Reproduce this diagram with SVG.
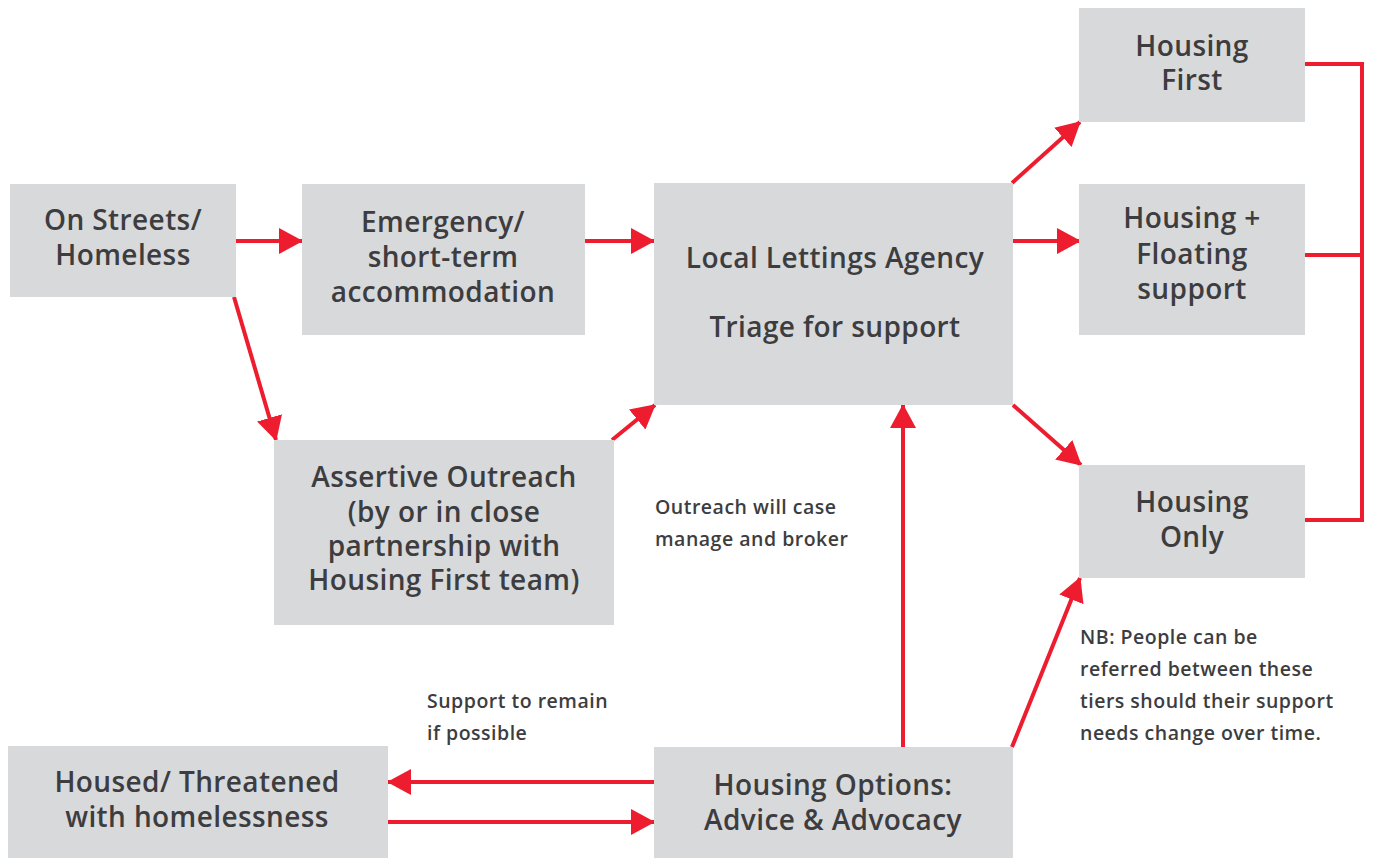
<svg xmlns="http://www.w3.org/2000/svg" width="1375" height="858" viewBox="0 0 1375 858">
<style>
.box{fill:#d8d9db}
.t{font-family:"Open Sans","Liberation Sans",sans-serif;font-weight:600;font-size:28px;letter-spacing:0.4px;fill:#3d3d3f;text-anchor:middle}
.s{font-family:"Open Sans","Liberation Sans",sans-serif;font-weight:600;font-size:19.5px;letter-spacing:0.5px;fill:#3d3d3f}
.c{stroke:#ed1c2e;stroke-width:4;fill:none}
</style>
<defs>
<marker id="ah" viewBox="0 0 24 26" refX="23" refY="13" markerWidth="24" markerHeight="26" markerUnits="userSpaceOnUse" orient="auto">
<path d="M0,0 L24,13 L0,26 Z" fill="#ed1c2e"/>
</marker>
</defs>
<rect width="1375" height="858" fill="#fff"/>
<g id="connectors">
<line class="c" x1="236" y1="241" x2="302" y2="241" marker-end="url(#ah)"/>
<line class="c" x1="585" y1="241" x2="654" y2="241" marker-end="url(#ah)"/>
<line class="c" x1="234" y1="297" x2="276" y2="440" marker-end="url(#ah)"/>
<line class="c" x1="612" y1="440" x2="655" y2="405" marker-end="url(#ah)"/>
<line class="c" x1="1012" y1="183" x2="1080" y2="122" marker-end="url(#ah)"/>
<line class="c" x1="1013" y1="241" x2="1080" y2="241" marker-end="url(#ah)"/>
<line class="c" x1="1013" y1="405" x2="1081" y2="465" marker-end="url(#ah)"/>
<line class="c" x1="903" y1="747" x2="903" y2="405" marker-end="url(#ah)"/>
<line class="c" x1="1012" y1="747" x2="1080" y2="578" marker-end="url(#ah)"/>
<line class="c" x1="654" y1="782" x2="388" y2="782" marker-end="url(#ah)"/>
<line class="c" x1="388" y1="822" x2="654" y2="822" marker-end="url(#ah)"/>
<polyline class="c" points="1305,64 1362,64 1362,520 1305,520"/>
<line class="c" x1="1305" y1="255" x2="1362" y2="255"/>
</g>
<g id="on-streets"><rect class="box" x="10" y="184" width="226" height="113"/>
<text class="t" x="123" y="230">On Streets/</text><text class="t" x="123" y="265">Homeless</text></g>
<g id="emergency"><rect class="box" x="302" y="184" width="283" height="151"/>
<text class="t" x="443" y="232">Emergency/</text><text class="t" x="443" y="267">short-term</text><text class="t" x="443" y="302">accommodation</text></g>
<g id="lla"><rect class="box" x="654" y="183" width="359" height="222"/>
<text class="t" x="835" y="268">Local Lettings Agency</text><text class="t" x="835" y="337">Triage for support</text></g>
<g id="housing-first"><rect class="box" x="1079" y="8" width="226" height="114"/>
<text class="t" x="1192" y="56">Housing</text><text class="t" x="1192" y="90">First</text></g>
<g id="housing-floating"><rect class="box" x="1079" y="184" width="226" height="151"/>
<text class="t" x="1192" y="228">Housing +</text><text class="t" x="1192" y="264">Floating</text><text class="t" x="1192" y="299">support</text></g>
<g id="housing-only"><rect class="box" x="1079" y="465" width="226" height="113"/>
<text class="t" x="1192" y="512">Housing</text><text class="t" x="1192" y="547">Only</text></g>
<g id="assertive"><rect class="box" x="274" y="440" width="340" height="185"/>
<text class="t" x="444" y="487">Assertive Outreach</text><text class="t" x="444" y="522">(by or in close</text><text class="t" x="444" y="556">partnership with</text><text class="t" x="444" y="590">Housing First team)</text></g>
<g id="housed"><rect class="box" x="8" y="746" width="380" height="112"/>
<text class="t" x="197" y="792">Housed/ Threatened</text><text class="t" x="197" y="827">with homelessness</text></g>
<g id="housing-options"><rect class="box" x="654" y="747" width="359" height="111"/>
<text class="t" x="833" y="795">Housing Options:</text><text class="t" x="833" y="830">Advice &amp; Advocacy</text></g>
<g id="notes">
<text class="s" x="655" y="514">Outreach will case</text><text class="s" x="655" y="546">manage and broker</text>
<text class="s" x="1080" y="644">NB: People can be</text><text class="s" x="1080" y="676">referred between these</text><text class="s" x="1080" y="708">tiers should their support</text><text class="s" x="1080" y="740">needs change over time.</text>
<text class="s" x="427" y="708">Support to remain</text><text class="s" x="427" y="740">if possible</text>
</g>
</svg>
